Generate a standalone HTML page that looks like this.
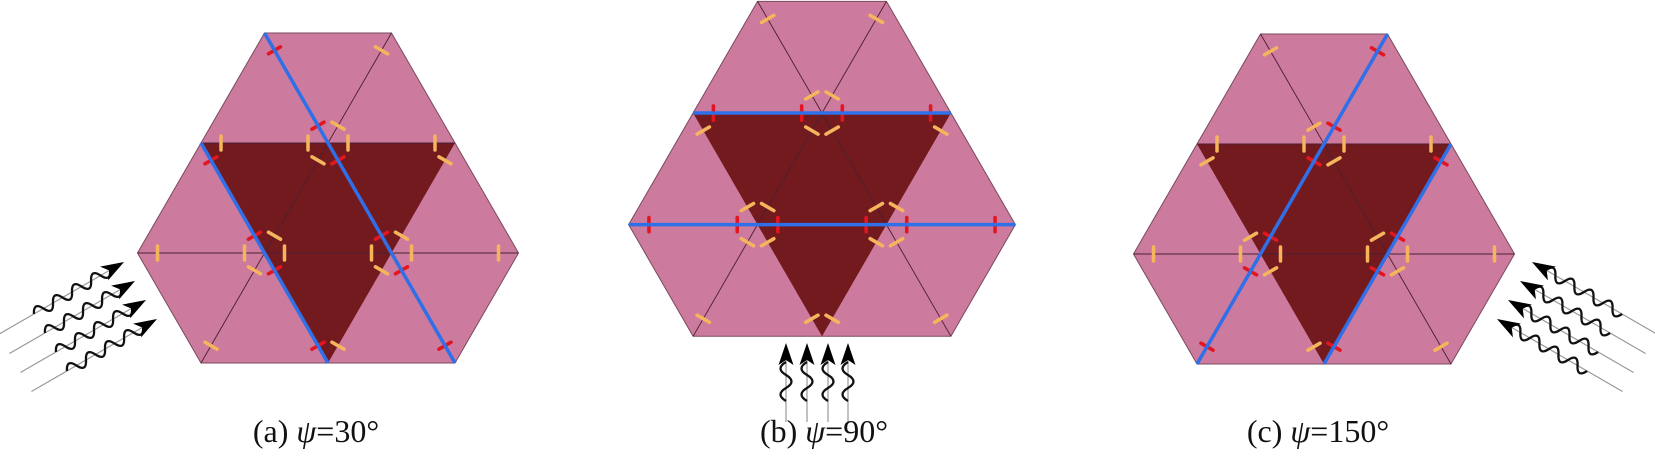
<!DOCTYPE html>
<html><head><meta charset="utf-8"><style>
html,body{margin:0;padding:0;background:#fff;}
svg{display:block;}
</style></head><body>
<svg width="1655" height="457" viewBox="0 0 1655 457" xmlns="http://www.w3.org/2000/svg">
<defs>
<g id="base">
<polygon points="-63.5,-110 63.5,-110 190.5,110 127,220 -127,220 -190.5,110" fill="#cc7b9e" stroke="#7a4a5e" stroke-width="1"/>
<polygon points="-127,0 127,0 0,220" fill="#731a1f"/>
<g stroke="#4a2030" stroke-width="0.9" fill="none">
<line x1="63.5" y1="-110" x2="-127" y2="220"/>
<line x1="-63.5" y1="-110" x2="127" y2="220"/>
<line x1="-190.5" y1="110" x2="190.5" y2="110"/>
<line x1="-127" y1="0" x2="127" y2="0"/>
</g>
</g>
<line id="V" x1="0" y1="-7" x2="0" y2="7"/>
<line id="D" x1="-6.06" y1="-3.5" x2="6.06" y2="3.5"/>
<line id="U" x1="-6.06" y1="3.5" x2="6.06" y2="-3.5"/>
<g id="Vs">
<use href="#V" x="20" y="0"/><use href="#V" x="-20" y="0"/>
<use href="#V" x="-43.5" y="110"/><use href="#V" x="-83.5" y="110"/>
<use href="#V" x="83.5" y="110"/><use href="#V" x="43.5" y="110"/>
<use href="#V" x="-107" y="0"/><use href="#V" x="107" y="0"/>
<use href="#V" x="-170.5" y="110"/><use href="#V" x="170.5" y="110"/>
</g>
<g id="Ds">
<use href="#D" x="10" y="-17.3"/><use href="#D" x="-10" y="17.3"/>
<use href="#D" x="-53.5" y="92.7"/><use href="#D" x="-73.5" y="127.3"/>
<use href="#D" x="73.5" y="92.7"/><use href="#D" x="53.5" y="127.3"/>
<use href="#D" x="53.5" y="-92.7"/><use href="#D" x="117" y="17.3"/>
<use href="#D" x="-117" y="202.7"/><use href="#D" x="10" y="202.7"/>
</g>
<g id="Us">
<use href="#U" x="-10" y="-17.3"/><use href="#U" x="10" y="17.3"/>
<use href="#U" x="-73.5" y="92.7"/><use href="#U" x="-53.5" y="127.3"/>
<use href="#U" x="53.5" y="92.7"/><use href="#U" x="73.5" y="127.3"/>
<use href="#U" x="-53.5" y="-92.7"/><use href="#U" x="-117" y="17.3"/>
<use href="#U" x="-10" y="202.7"/><use href="#U" x="117" y="202.7"/>
</g>
<g id="arrow">
<line x1="-145" y1="0" x2="-2" y2="0" stroke="#999" stroke-width="1.2"/>
<path d="M-104,0 q5.5,-11 11,0 t11,0 t11,0 t11,0 t11,0 t11,0 t11,0 t11,0" fill="none" stroke="#111" stroke-width="2.3"/>
<polygon points="0,0 -23,-8 -17,0 -23,8" fill="#000"/>
</g>
<g id="arrowv">
<line x1="-79" y1="0" x2="-2" y2="0" stroke="#999" stroke-width="1.2"/>
<path d="M-58,0 q6.5,-11 13,0 t13,0 t13,0" fill="none" stroke="#111" stroke-width="2.3"/>
<polygon points="0,0 -22,-7.5 -17,0 -22,7.5" fill="#000"/>
</g>
</defs>

<g transform="translate(328,143)">
<use href="#base"/>
<g stroke="#f4b55c" stroke-width="3.5" stroke-linecap="round"><use href="#Vs"/><use href="#Ds"/></g>
<g stroke="#e3161f" stroke-width="3.5" stroke-linecap="round"><use href="#Us"/></g>
<g stroke="#2f6fe8" stroke-width="3.5">
<line x1="-63.5" y1="-110" x2="127" y2="220"/>
<line x1="-127" y1="0" x2="0" y2="220"/>
</g>
</g>

<g transform="translate(822,113) scale(1.015)">
<use href="#base"/>
<g stroke="#f4b55c" stroke-width="3.5" stroke-linecap="round"><use href="#Us"/><use href="#Ds"/></g>
<g stroke="#e3161f" stroke-width="3.5" stroke-linecap="round"><use href="#Vs"/></g>
<g stroke="#2f6fe8" stroke-width="3.5">
<line x1="-127" y1="0" x2="127" y2="0"/>
<line x1="-190.5" y1="110" x2="190.5" y2="110"/>
</g>
</g>

<g transform="translate(1324,144)">
<use href="#base"/>
<g stroke="#f4b55c" stroke-width="3.5" stroke-linecap="round"><use href="#Vs"/><use href="#Us"/></g>
<g stroke="#e3161f" stroke-width="3.5" stroke-linecap="round"><use href="#Ds"/></g>
<g stroke="#2f6fe8" stroke-width="3.5">
<line x1="63.5" y1="-110" x2="-127" y2="220"/>
<line x1="127" y1="0" x2="0" y2="220"/>
</g>
</g>

<use href="#arrow" transform="translate(124,262) rotate(-30)"/>
<use href="#arrow" transform="translate(135,281) rotate(-30)"/>
<use href="#arrow" transform="translate(146,300) rotate(-30)"/>
<use href="#arrow" transform="translate(157,319) rotate(-30)"/>
<use href="#arrowv" transform="translate(786,343) rotate(-90)"/>
<use href="#arrowv" transform="translate(807,343) rotate(-90)"/>
<use href="#arrowv" transform="translate(828,343) rotate(-90)"/>
<use href="#arrowv" transform="translate(848,343) rotate(-90)"/>
<use href="#arrow" transform="translate(1532,262) rotate(-150)"/>
<use href="#arrow" transform="translate(1520,281) rotate(-150)"/>
<use href="#arrow" transform="translate(1508,300) rotate(-150)"/>
<use href="#arrow" transform="translate(1497,319) rotate(-150)"/>

<g font-family="Liberation Serif, serif" font-size="32" fill="#111" text-anchor="middle">
<text x="316" y="442">(a) <tspan font-style="italic">ψ</tspan>=30°</text>
<text x="824" y="442">(b) <tspan font-style="italic">ψ</tspan>=90°</text>
<text x="1318" y="442">(c) <tspan font-style="italic">ψ</tspan>=150°</text>
</g>
</svg>
</body></html>
